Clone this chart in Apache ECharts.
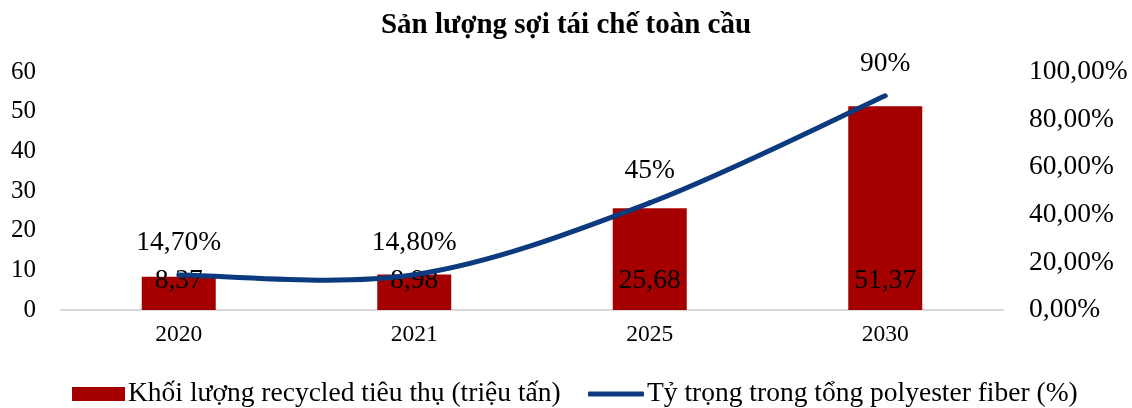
<!DOCTYPE html>
<html>
<head>
<meta charset="utf-8">
<script src="https://cdn.jsdelivr.net/npm/echarts@6/dist/echarts.min.js"></script>
<style>
  html, body { margin: 0; padding: 0; background: #fff; }
  #chart { width: 1132px; height: 408px; }
</style>
</head>
<body>
<div id="chart"></div>
<script>
const years = ['2020', '2021', '2025', '2030'];
const volume = [8.37, 8.98, 25.68, 51.37];
const share = [0.147, 0.148, 0.45, 0.90];
const shareLabels = ['14,70%', '14,80%', '45%', '90%'];

const font = 'Liberation Serif';
const barName = 'Khối lượng recycled tiêu thụ (triệu tấn)';
const lineName = 'Tỷ trọng trong tổng polyester fiber (%)';
const barColor = '#a50000';
const lineColor = '#0b3a7e';

const chart = echarts.init(document.getElementById('chart'));

// Excel-style smoothed line (Catmull-Rom), drawn once through the axis scales
const renderSmoothLine = (params, api) => {
  if (params.dataIndex !== 0) return null;
  const pts = share.map((v, i) => api.coord([i, v]));
  const n = pts.length;
  const children = [];
  for (let i = 0; i < n - 1; i++) {
    const p0 = pts[Math.max(i - 1, 0)];
    const p1 = pts[i];
    const p2 = pts[i + 1];
    const p3 = pts[Math.min(i + 2, n - 1)];
    children.push({
      type: 'bezierCurve',
      shape: {
        x1: p1[0], y1: p1[1],
        x2: p2[0], y2: p2[1],
        cpx1: p1[0] + (p2[0] - p0[0]) / 6,
        cpy1: p1[1] + (p2[1] - p0[1]) / 6,
        cpx2: p2[0] - (p3[0] - p1[0]) / 6,
        cpy2: p2[1] - (p3[1] - p1[1]) / 6,
      },
      style: { stroke: lineColor, lineWidth: 5, fill: null, lineCap: 'round' },
    });
  }
  return { type: 'group', children };
};

chart.setOption({
  animation: false,
  textStyle: { fontFamily: font, color: '#000' },
  title: {
    text: 'Sản lượng sợi tái chế toàn cầu',
    left: 'center',
    top: 6,
    textStyle: { fontFamily: font, fontWeight: 'bold', fontSize: 29, color: '#000' },
  },
  grid: { left: 61, right: 129, top: 72, bottom: 98 },
  legend: [
    {
      left: 67,
      top: 375,
      itemWidth: 53,
      itemHeight: 14,
      textStyle: { fontFamily: font, fontSize: 27.5, color: '#000', padding: [0, 0, 0, -2] },
      data: [{ name: barName, icon: 'rect' }],
    },
    {
      left: 583,
      top: 375,
      itemWidth: 56,
      itemHeight: 5,
      textStyle: { fontFamily: font, fontSize: 27.5, color: '#000', padding: [0, 0, 0, -2] },
      data: [{ name: lineName, icon: 'roundRect', itemStyle: { color: lineColor } }],
    },
  ],
  xAxis: {
    type: 'category',
    data: years,
    axisLine: { lineStyle: { color: '#d9d9d9', width: 2 } },
    axisTick: { show: false },
    axisLabel: { fontFamily: font, fontSize: 23.5, color: '#000', margin: 13 },
  },
  yAxis: [
    {
      type: 'value',
      min: 0,
      max: 60,
      interval: 10,
      splitLine: { show: false },
      axisLabel: { fontFamily: font, fontSize: 25, color: '#000', margin: 25 },
    },
    {
      type: 'value',
      min: 0,
      max: 1,
      interval: 0.2,
      splitLine: { show: false },
      axisLabel: {
        fontFamily: font,
        fontSize: 27.5,
        color: '#000',
        margin: 26,
        formatter: (v) => (v * 100).toFixed(2).replace('.', ',') + '%',
      },
    },
  ],
  series: [
    {
      name: barName,
      type: 'bar',
      data: volume,
      barWidth: 74,
      itemStyle: { color: barColor },
      label: {
        show: true,
        position: 'insideBottom',
        distance: 15,
        fontFamily: font,
        fontSize: 27.5,
        color: '#000',
        formatter: (p) => String(p.value).replace('.', ','),
      },
    },
    {
      name: lineName,
      type: 'custom',
      yAxisIndex: 1,
      data: share,
      itemStyle: { color: lineColor },
      renderItem: renderSmoothLine,
      z: 3,
    },
    {
      name: 'nhãn tỷ trọng',
      type: 'scatter',
      yAxisIndex: 1,
      data: share,
      symbolSize: 0,
      itemStyle: { color: lineColor, opacity: 1 },
      label: {
        show: true,
        position: 'top',
        distance: 18,
        fontFamily: font,
        fontSize: 27.5,
        color: '#000',
        formatter: (p) => shareLabels[p.dataIndex],
      },
      z: 4,
    },
  ],
});
</script>
</body>
</html>
